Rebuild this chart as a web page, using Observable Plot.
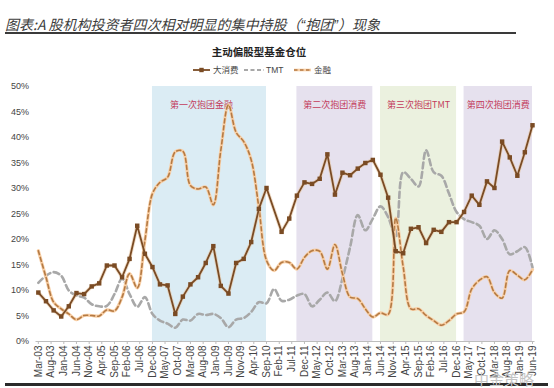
<!DOCTYPE html>
<html><head><meta charset="utf-8">
<script src="https://cdn.jsdelivr.net/npm/d3@7"></script>
<script src="https://cdn.jsdelivr.net/npm/@observablehq/plot@0.6"></script>
<style>
body{margin:0;background:#fff;}
#wrap{position:relative;width:554px;height:388px;overflow:hidden;font-family:"Noto Sans CJK SC",sans-serif;background:#fff;}
#chart{position:absolute;left:0;top:0;}
#title{position:absolute;left:5px;top:14px;font-size:14px;font-style:italic;color:#3c3c3c;white-space:nowrap;line-height:20px;}
#title .q{font-family:Arial,"Liberation Sans",sans-serif;}
#rule1{position:absolute;left:5px;top:32px;width:511px;height:2px;background:#3a3a3a;}
#ctitle{position:absolute;left:159px;width:200px;text-align:center;top:44px;font-size:10.5px;font-weight:bold;color:#222;line-height:16px;}
#legend{position:absolute;top:63px;left:0;}
#rule2{position:absolute;left:5px;top:383px;width:543px;height:2.5px;background:#2a2a2a;}
#wm{position:absolute;left:474px;top:370px;font-size:15px;color:#c4c4c4;line-height:18px;white-space:nowrap;}
</style></head>
<body>
<div id="wrap">
  <div id="chart"></div>
  <div id="title">图表:A 股机构投资者四次相对明显的集中持股（<span class="q">“</span>抱团<span class="q">”</span>）现象</div>
  <div id="rule1"></div>
  <div id="ctitle">主动偏股型基金仓位</div>
  <svg id="legend" width="554" height="14"></svg>
  <div id="rule2"></div>
  <div id="wm">中金策略</div>
</div>
<script>
// ---------- data ----------
const quarters = [
 "2003-03","2003-06","2003-09","2003-12","2004-03","2004-06","2004-09","2004-12",
 "2005-03","2005-06","2005-09","2005-12","2006-03","2006-06","2006-09","2006-12",
 "2007-03","2007-06","2007-09","2007-12","2008-03","2008-06","2008-09","2008-12",
 "2009-03","2009-06","2009-09","2009-12","2010-03","2010-06","2010-09","2010-12",
 "2011-03","2011-06","2011-09","2011-12","2012-03","2012-06","2012-09","2012-12",
 "2013-03","2013-06","2013-09","2013-12","2014-03","2014-06","2014-09","2014-12",
 "2015-03","2015-06","2015-09","2015-12","2016-03","2016-06","2016-09","2016-12",
 "2017-03","2017-06","2017-09","2017-12","2018-03","2018-06","2018-09","2018-12",
 "2019-03","2019-06"];
// 大消费 (%), null = no point reported
const consumer = [9.6,7.9,6.1,4.9,6.9,9.5,9.3,10.8,11.4,14.9,14.9,12.6,16.2,22.7,17.2,14.6,
 11.2,11.0,5.4,8.8,11.2,12.6,15.4,18.7,10.9,9.4,15.4,16.2,19.5,26.0,30.1,null,
 21.5,24.1,28.6,31.2,30.9,31.9,36.7,28.8,33.1,32.6,33.9,35.0,35.6,32.7,28.2,17.7,
 17.3,22.1,22.4,19.3,21.9,21.5,23.4,23.4,25.4,28.6,26.8,31.4,30.1,39.2,36.1,32.5,
 37.1,42.4];
// TMT (%)
const tmt = [11.5,12.9,13.6,12.9,10.0,9.0,8.6,7.3,6.9,7.0,9.3,12.3,9.3,6.8,8.7,5.4,
 4.1,3.5,2.7,4.3,4.1,5.4,5.2,5.4,4.6,2.8,4.3,4.6,5.8,7.7,7.5,10.3,
 8.0,8.2,9.0,9.3,6.9,8.2,9.6,7.9,12.3,18.5,24.8,21.8,24.1,26.5,24.4,20.5,
 33.2,31.9,30.4,37.5,33.2,32.5,29.0,25.4,24.0,23.4,22.7,20.1,21.8,20.1,17.1,17.7,
 18.5,14.5];
// 金融 (%)
const finance = [17.8,12.6,7.7,6.4,5.4,4.3,5.1,5.1,5.0,6.2,6.0,8.7,13.3,10.5,19.8,29.0,
 31.2,32.2,37.2,37.3,30.6,29.9,30.3,26.8,37.5,46.4,41.0,39.2,35.6,26.3,15.9,13.9,
 15.5,15.5,14.2,16.5,17.8,17.7,14.2,19.0,13.3,8.7,8.4,6.4,4.8,5.6,5.3,24.2,
 14.6,6.4,6.4,5.1,4.1,3.2,4.1,5.4,5.8,10.3,12.0,12.7,9.6,8.5,13.9,13.0,
 12.1,14.1];
const tickLabels = ["Mar-03","Aug-03","Jan-04","Jun-04","Nov-04","Apr-05","Sep-05","Feb-06",
 "Jul-06","Dec-06","May-07","Oct-07","Mar-08","Aug-08","Jan-09","Jun-09","Nov-09","Apr-10",
 "Sep-10","Feb-11","Jul-11","Dec-11","May-12","Oct-12","Mar-13","Aug-13","Jan-14","Jun-14",
 "Nov-14","Apr-15","Sep-15","Feb-16","Jul-16","Dec-16","May-17","Oct-17","Mar-18","Aug-18",
 "Jan-19","Jun-19"];
const yTicks = [0,0.05,0.1,0.15,0.2,0.25,0.3,0.35,0.4,0.45,0.5];
const regionStart = ["Dec-06","Sep-11","Jun-14","Mar-17"];
const regionEnd = ["Sep-10","Mar-14","Dec-16","Jun-19"];
const regionLabels = ["第一次抱团金融","第二次抱团消费","第三次抱团TMT","第四次抱团消费"];
const seriesNames = ["大消费","TMT","金融"];

// ---------- styles ----------
const regionFills = ["#dbecf4","#e6e1ee","#ebf1df","#e6e1ee"];
const C_CONS = "#7a4b24", C_TMT = "#a8a8a8", C_FIN = "#b47a44", C_FIN_HALO = "#f8cfa6";
const LABEL_RED = "#c33c5c";

// ---------- build ----------
const parseQ = d3.utcParse("%Y-%m");
const parseT = d3.utcParse("%b-%y");
const rows = quarters.map((q,i)=>({date:parseQ(q), consumer:consumer[i], tmt:tmt[i], fin:finance[i]}));
const consRows = rows.filter(d=>d.consumer!=null);
const regions = regionStart.map((s,i)=>{
  const a = parseT(s), b = parseT(regionEnd[i]);
  return {start:a, end:b, mid:new Date((+a + +b)/2), label:regionLabels[i], fill:regionFills[i], i};
});
const ticks = tickLabels.map(parseT);

const chart = Plot.plot({
  width:554, height:388,
  marginTop:86, marginBottom:47, marginLeft:35.5, marginRight:19.5,
  style:{fontFamily:"Arial, 'Liberation Sans', sans-serif", background:"transparent", overflow:"visible"},
  x:{type:"utc", domain:[parseQ("2003-02"), parseQ("2019-07")], axis:null},
  y:{domain:[0,0.5], axis:null},
  marks:[
    Plot.rect(regions, {x1:"start", x2:"end", y1:0, y2:0.5, fill:"fill"}),
    Plot.text(regions.filter(d=>d.i===0), {x:"mid", text:"label", frameAnchor:"top", dy:15, dx:-8,
      fill:LABEL_RED, fontSize:9, fontFamily:"'Noto Sans CJK SC'"}),
    Plot.text(regions.filter(d=>d.i>0), {x:"mid", text:"label", frameAnchor:"top", dy:15,
      fill:LABEL_RED, fontSize:9, fontFamily:"'Noto Sans CJK SC'"}),
    Plot.ruleY([0], {stroke:"#bdbdbd", strokeWidth:1}),
    Plot.axisX(ticks, {tickSize:3, tickPadding:1, tickRotate:-90, tickFormat:d3.utcFormat("%b-%y"),
      fontSize:10, fill:"#444", stroke:"#bdbdbd"}),
    Plot.axisY(yTicks, {tickSize:0, tickPadding:7, tickFormat:d3.format(".0%"), fontSize:9, fill:"#444"}),
    Plot.line(rows, {x:"date", y:d=>d.tmt/100, stroke:C_TMT, strokeWidth:2.6, strokeDasharray:"6,3.5", curve:"catmull-rom"}),
    Plot.line(rows, {x:"date", y:d=>d.fin/100, stroke:C_FIN_HALO, strokeWidth:3.2, curve:"catmull-rom"}),
    Plot.line(rows, {x:"date", y:d=>d.fin/100, stroke:C_FIN, strokeWidth:1.6, strokeDasharray:"4,3", curve:"catmull-rom"}),
    Plot.line(consRows, {x:"date", y:d=>d.consumer/100, stroke:"#e6c6a4", strokeWidth:3.6, strokeOpacity:0.6}),
    Plot.line(consRows, {x:"date", y:d=>d.consumer/100, stroke:C_CONS, strokeWidth:1.8}),
    Plot.dot(consRows, {x:"date", y:d=>d.consumer/100, symbol:"square", r:2.5, fill:C_CONS, stroke:null})
  ]
});
document.getElementById("chart").appendChild(chart);

// ---------- legend ----------
const lg = d3.select("#legend");
const items = [
  {x:193, name:seriesNames[0], kind:"cons"},
  {x:244, name:seriesNames[1], kind:"tmt"},
  {x:294, name:seriesNames[2], kind:"fin"}
];
const yL = 7;
items.forEach(it=>{
  if (it.kind==="cons") {
    lg.append("line").attr("x1",it.x).attr("x2",it.x+17).attr("y1",yL).attr("y2",yL).attr("stroke",C_CONS).attr("stroke-width",1.8);
    lg.append("rect").attr("x",it.x+6.3).attr("y",yL-2.2).attr("width",4.4).attr("height",4.4).attr("fill",C_CONS);
  } else if (it.kind==="tmt") {
    lg.append("line").attr("x1",it.x).attr("x2",it.x+20).attr("y1",yL).attr("y2",yL).attr("stroke",C_TMT).attr("stroke-width",2).attr("stroke-dasharray","4,2.5");
  } else {
    lg.append("line").attr("x1",it.x).attr("x2",it.x+17).attr("y1",yL).attr("y2",yL).attr("stroke",C_FIN_HALO).attr("stroke-width",2.6);
    lg.append("line").attr("x1",it.x).attr("x2",it.x+17).attr("y1",yL).attr("y2",yL).attr("stroke",C_FIN).attr("stroke-width",1.4).attr("stroke-dasharray","3.5,2.5");
  }
  lg.append("text").attr("x", it.x + (it.kind==="tmt"?22:20)).attr("y", yL).attr("dy","0.35em")
    .attr("font-size", 8.5).attr("fill","#444")
    .attr("font-family", it.kind==="tmt" ? "Arial, 'Liberation Sans', sans-serif" : "'Noto Sans CJK SC'")
    .text(it.name);
});
</script>
</body></html>
